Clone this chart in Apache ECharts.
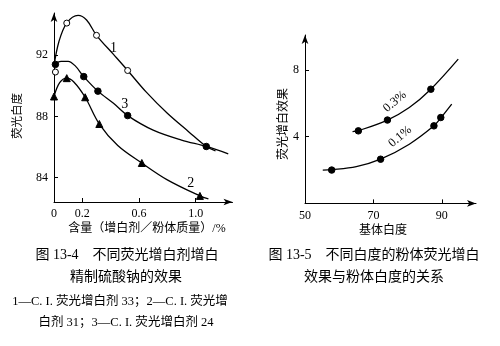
<!DOCTYPE html>
<html><head><meta charset="utf-8">
<script src="https://cdn.jsdelivr.net/npm/echarts@6/dist/echarts.min.js"></script>
<style>html,body{margin:0;padding:0;background:#fff}#c{width:500px;height:346px}</style>
</head><body><div id="c"></div>
<script>
// ---------- Figure 13-4 (left) ----------
const leftXTicks = [0, 0.2, 0.6, 1.0];
const leftYTicks = [84, 88, 92];
// curve 1 (C.I. 33) open circles
const c1MarkX = [0.01, 0.09, 0.30, 0.52];
const c1MarkY = [90.9, 94.1, 93.3, 91.0];
const c1LineX = [0, 0.035, 0.09, 0.17, 0.23, 0.30, 0.42, 0.52, 0.65, 0.80, 0.95, 1.075, 1.14];
const c1LineY = [91.3, 92.9, 94.1, 94.6, 94.3, 93.3, 92.05, 91.0, 89.6, 88.2, 87.0, 86.03, 85.75];
// curve 2 (C.I. 31) triangles
const c2MarkX = [0.0, 0.09, 0.22, 0.32, 0.62, 1.03];
const c2MarkY = [89.3, 90.5, 89.25, 87.5, 84.95, 82.8];
const c2LineX = [0, 0.04, 0.09, 0.14, 0.22, 0.32, 0.45, 0.62, 0.80, 1.03, 1.09];
const c2LineY = [89.3, 90.2, 90.5, 90.25, 89.25, 87.5, 86.1, 84.95, 83.85, 82.8, 82.6];
// curve 3 (C.I. 24) filled circles
const c3MarkX = [0.01, 0.21, 0.31, 0.52, 1.075];
const c3MarkY = [91.4, 90.6, 89.65, 88.05, 86.03];
const c3LineX = [0, 0.05, 0.10, 0.15, 0.21, 0.31, 0.42, 0.52, 0.70, 0.90, 1.075, 1.23];
const c3LineY = [91.4, 91.6, 91.6, 91.3, 90.6, 89.65, 88.85, 88.05, 87.1, 86.45, 86.03, 85.55];
const leftLabelText = ['1', '2', '3'];
const leftLabelX = [0.42, 0.965, 0.50];
const leftLabelY = [92.45, 83.63, 88.81];

// ---------- Figure 13-5 (right) ----------
const rightXTicks = [50, 70, 90];
const rightYTicks = [4, 8];
const r3MarkX = [65.6, 74.1, 86.8];
const r3MarkY = [4.35, 5.0, 6.85];
const r3LineX = [63.9, 65.6, 74.1, 80.5, 86.8, 94.8];
const r3LineY = [4.3, 4.36, 5.0, 5.75, 6.85, 8.65];
const r1MarkX = [57.8, 72.1, 87.7, 89.7];
const r1MarkY = [2.0, 2.65, 4.65, 5.15];
const r1LineX = [55.2, 57.8, 65, 72.1, 80.5, 87.7, 89.7, 92.9];
const r1LineY = [2.0, 2.02, 2.2, 2.65, 3.55, 4.65, 5.12, 5.95];
const rightLabelText = ['0.3%', '0.1%'];
const rightLabelX = [76.3, 77.8];
const rightLabelY = [6.1, 4.0];

const zip = (xs, ys) => xs.map((x, i) => [x, ys[i]]);
const SERIF = '"Liberation Serif", "Noto Sans CJK SC", serif';
const CJK = '"Liberation Serif", "Noto Sans CJK SC", sans-serif';

function lineSeries(xi, yi, xs, ys) {
  return { type: 'line', xAxisIndex: xi, yAxisIndex: yi, data: zip(xs, ys), smooth: 0.35,
    showSymbol: false, lineStyle: { color: '#000', width: 1.3 }, z: 2, silent: true };
}
function markSeries(xi, yi, xs, ys, symbol, fill, size) {
  return { type: 'scatter', xAxisIndex: xi, yAxisIndex: yi, data: zip(xs, ys), symbol: symbol,
    symbolSize: size, itemStyle: { color: fill, borderColor: '#000', borderWidth: 1, opacity: 1 }, z: 3 };
}
function labelSeries(xi, yi, xs, ys, texts, rotate) {
  return { type: 'scatter', xAxisIndex: xi, yAxisIndex: yi, symbolSize: 0,
    itemStyle: { opacity: 1, color: '#000' },
    data: xs.map((x, i) => ({ value: [x, ys[i]], label: { formatter: texts[i] } })),
    label: { show: true, position: 'inside', rotate: rotate, color: '#000', opacity: 1,
      fontFamily: SERIF, fontSize: rotate ? 12.5 : 14 }, z: 4 };
}
const axisBase = {
  axisLine: { show: true, onZero: false, symbol: ['none', 'arrow'], symbolSize: [5, 9],
    lineStyle: { color: '#000', width: 1 } },
  splitLine: { show: false },
};
function mkAxis(opts, ticks, fmt) {
  return Object.assign({}, axisBase, {
    type: 'value',
    axisTick: { show: true, inside: true, length: 4, lineStyle: { color: '#000' },
      customValues: ticks.filter(v => v !== 0 && v !== 50) },
    axisLabel: { show: true, customValues: ticks, formatter: fmt, color: '#000',
      fontFamily: SERIF, fontSize: 12, margin: 6 },
  }, opts);
}

const chart = echarts.init(document.getElementById('c'), null, { renderer: 'canvas' });
const captions = [
  ['图 13-4　不同荧光增白剂增白', 127, 255, 14],
  ['精制硫酸钠的效果', 126, 277, 14],
  ['1—C. I. 荧光增白剂 33；2—C. I. 荧光增', 120, 302, 12.5],
  ['白剂 31；3—C. I. 荧光增白剂 24', 126, 323, 12.5],
  ['图 13-5　不同白度的粉体荧光增白', 374, 255, 14],
  ['效果与粉体白度的关系', 374, 277, 14],
];
const axisNames = [
  ['荧光白度', 18, 116, 11.5, Math.PI / 2],
  ['含量（增白剂／粉体质量）/%', 147, 229, 12, 0],
  ['荧光增白效果', 284, 124, 12, Math.PI / 2],
  ['基体白度', 383, 231, 12, 0],
];
chart.setOption({
  animation: false,
  backgroundColor: '#fff',
  grid: [
    { left: 54, top: 13, width: 178.5, height: 189 },
    { left: 305, top: 35, width: 171, height: 168.4 },
  ],
  xAxis: [
    mkAxis({ gridIndex: 0, min: 0, max: 1.26 }, leftXTicks, v => v === 0 ? '0' : v.toFixed(1)),
    mkAxis({ gridIndex: 1, min: 50, max: 100 }, rightXTicks, v => String(v)),
  ],
  yAxis: [
    mkAxis({ gridIndex: 0, min: 82.4, max: 94.76 }, leftYTicks, v => String(v)),
    mkAxis({ gridIndex: 1, min: 0, max: 10.1 }, rightYTicks, v => String(v)),
  ],
  graphic: captions.map(c => ({ type: 'text', x: c[1], y: c[2],
      style: { text: c[0], fill: '#000', font: c[3] + 'px ' + CJK, textAlign: 'center', textVerticalAlign: 'middle' } }))
    .concat(axisNames.map(a => ({ type: 'text', x: a[1], y: a[2], rotation: a[4],
      style: { text: a[0], fill: '#000', font: a[3] + 'px ' + CJK, textAlign: 'center', textVerticalAlign: 'middle' } }))),
  series: [
    lineSeries(0, 0, c1LineX, c1LineY),
    lineSeries(0, 0, c2LineX, c2LineY),
    lineSeries(0, 0, c3LineX, c3LineY),
    markSeries(0, 0, c1MarkX, c1MarkY, 'circle', '#fff', 6),
    markSeries(0, 0, c2MarkX, c2MarkY, 'triangle', '#000', 7),
    markSeries(0, 0, c3MarkX, c3MarkY, 'circle', '#000', 6.5),
    labelSeries(0, 0, leftLabelX, leftLabelY, leftLabelText, 0),
    lineSeries(1, 1, r3LineX, r3LineY),
    lineSeries(1, 1, r1LineX, r1LineY),
    markSeries(1, 1, r3MarkX, r3MarkY, 'circle', '#000', 6.5),
    markSeries(1, 1, r1MarkX, r1MarkY, 'circle', '#000', 6.5),
    labelSeries(1, 1, rightLabelX, rightLabelY, rightLabelText, 40),
  ],
});
</script></body></html>
